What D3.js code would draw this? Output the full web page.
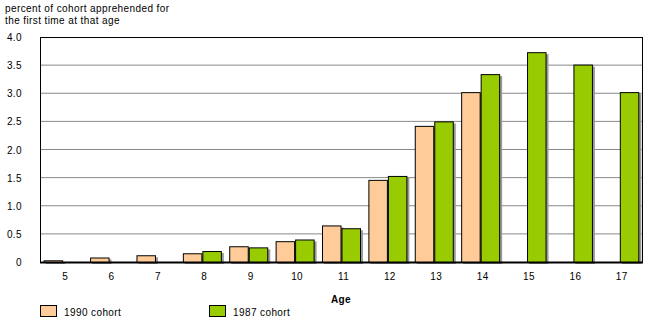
<!DOCTYPE html>
<html>
<head>
<meta charset="utf-8">
<script src="https://cdn.jsdelivr.net/npm/d3@7"></script>
<style>
  body { margin: 0; background: #fff; }
  text { font-family: "Liberation Sans", Arial, sans-serif; fill: #000; letter-spacing: 0.4px; }
</style>
</head>
<body>
<svg id="chart" width="650" height="328"></svg>
<script>
  // data
  const ages = ["5", "6", "7", "8", "9", "10", "11", "12", "13", "14", "15", "16", "17"];
  const cohort1990 = [0.03, 0.08, 0.12, 0.155, 0.28, 0.37, 0.65, 1.46, 2.42, 3.02, null, null, null];
  const cohort1987 = [null, null, null, 0.195, 0.26, 0.40, 0.60, 1.53, 2.50, 3.34, 3.73, 3.51, 3.02];
  const yTicks = [0, 0.5, 1.0, 1.5, 2.0, 2.5, 3.0, 3.5, 4.0];
  const seriesNames = ["1990 cohort", "1987 cohort"];
  const colors = ["#FFCC99", "#99CC00"];

  const svg = d3.select("#chart");
  const margin = { left: 40, right: 7, top: 37, bottom: 66 };
  const width = 650, height = 328;

  const x = d3.scaleBand()
    .domain(ages)
    .range([margin.left, width - margin.right]);

  const x1 = d3.scaleBand()
    .domain([0, 1])
    .range([0, 39])
    .paddingInner(0);

  const y = d3.scaleLinear()
    .domain([0, 4])
    .range([height - margin.bottom, margin.top]);

  // grid lines
  svg.append("g")
    .selectAll("line")
    .data(yTicks.slice(1, -1))
    .join("line")
    .attr("x1", margin.left)
    .attr("x2", width - margin.right)
    .attr("y1", d => y(d))
    .attr("y2", d => y(d))
    .attr("stroke", "#888")
    .attr("stroke-width", 1);

  // y tick labels
  svg.append("g")
    .selectAll("text")
    .data(yTicks)
    .join("text")
    .attr("x", 22)
    .attr("y", d => y(d) + 4)
    .attr("text-anchor", "end")
    .attr("font-size", 10)
    .text(d => d === 0 ? "0" : d.toFixed(1));

  // bars
  const rows = ages.map((a, i) => ({ age: a, vals: [cohort1990[i], cohort1987[i]] }));
  const groups = svg.append("g")
    .selectAll("g")
    .data(rows)
    .join("g")
    .attr("transform", d => `translate(${x(d.age) + (x.bandwidth() - 39) / 2},0)`);

  const bars = groups.selectAll("g")
    .data(d => d.vals.map((v, k) => ({ v, k })).filter(e => e.v != null))
    .join("g");

  // shadow
  bars.append("rect")
    .attr("x", e => x1(e.k) + 2)
    .attr("y", e => y(e.v) + 2)
    .attr("width", x1.bandwidth())
    .attr("height", e => y(0) - y(e.v))
    .attr("fill", "#999");

  bars.append("rect")
    .attr("x", e => x1(e.k) + 0.5)
    .attr("y", e => y(e.v) + 0.5)
    .attr("width", x1.bandwidth() - 1)
    .attr("height", e => y(0) - y(e.v))
    .attr("fill", e => colors[e.k])
    .attr("stroke", "#000")
    .attr("stroke-width", 1);

  // frame
  svg.append("rect")
    .attr("x", margin.left + 0.5)
    .attr("y", margin.top + 0.5)
    .attr("width", width - margin.right - margin.left - 1)
    .attr("height", y(0) - margin.top)
    .attr("fill", "none")
    .attr("stroke", "#000")
    .attr("stroke-width", 1);

  // zero axis
  svg.append("line")
    .attr("x1", margin.left)
    .attr("x2", width - margin.right)
    .attr("y1", y(0) + 0.5)
    .attr("y2", y(0) + 0.5)
    .attr("stroke", "#000")
    .attr("stroke-width", 2);

  // x labels
  svg.append("g")
    .selectAll("text")
    .data(ages)
    .join("text")
    .attr("x", d => x(d) + x.bandwidth() / 2 + 2)
    .attr("y", 280)
    .attr("text-anchor", "middle")
    .attr("font-size", 10)
    .text(d => d);

  svg.append("text")
    .attr("x", 341)
    .attr("y", 303)
    .attr("text-anchor", "middle")
    .attr("font-size", 10)
    .attr("font-weight", "bold")
    .text("Age");

  // title
  svg.append("text")
    .attr("x", 5)
    .attr("y", 12)
    .attr("font-size", 10)
    .text("percent of cohort apprehended for");
  svg.append("text")
    .attr("x", 5)
    .attr("y", 24)
    .attr("font-size", 10)
    .text("the first time at that age");

  // legend
  const legX = [40, 209];
  const leg = svg.append("g")
    .selectAll("g")
    .data(seriesNames)
    .join("g")
    .attr("transform", (d, i) => `translate(${legX[i]},305)`);
  leg.append("rect")
    .attr("x", 0.5).attr("y", 0.5)
    .attr("width", 16).attr("height", 11)
    .attr("fill", (d, i) => colors[i])
    .attr("stroke", "#000");
  leg.append("text")
    .attr("x", 24)
    .attr("y", 11)
    .attr("font-size", 10)
    .text(d => d);
</script>
</body>
</html>
